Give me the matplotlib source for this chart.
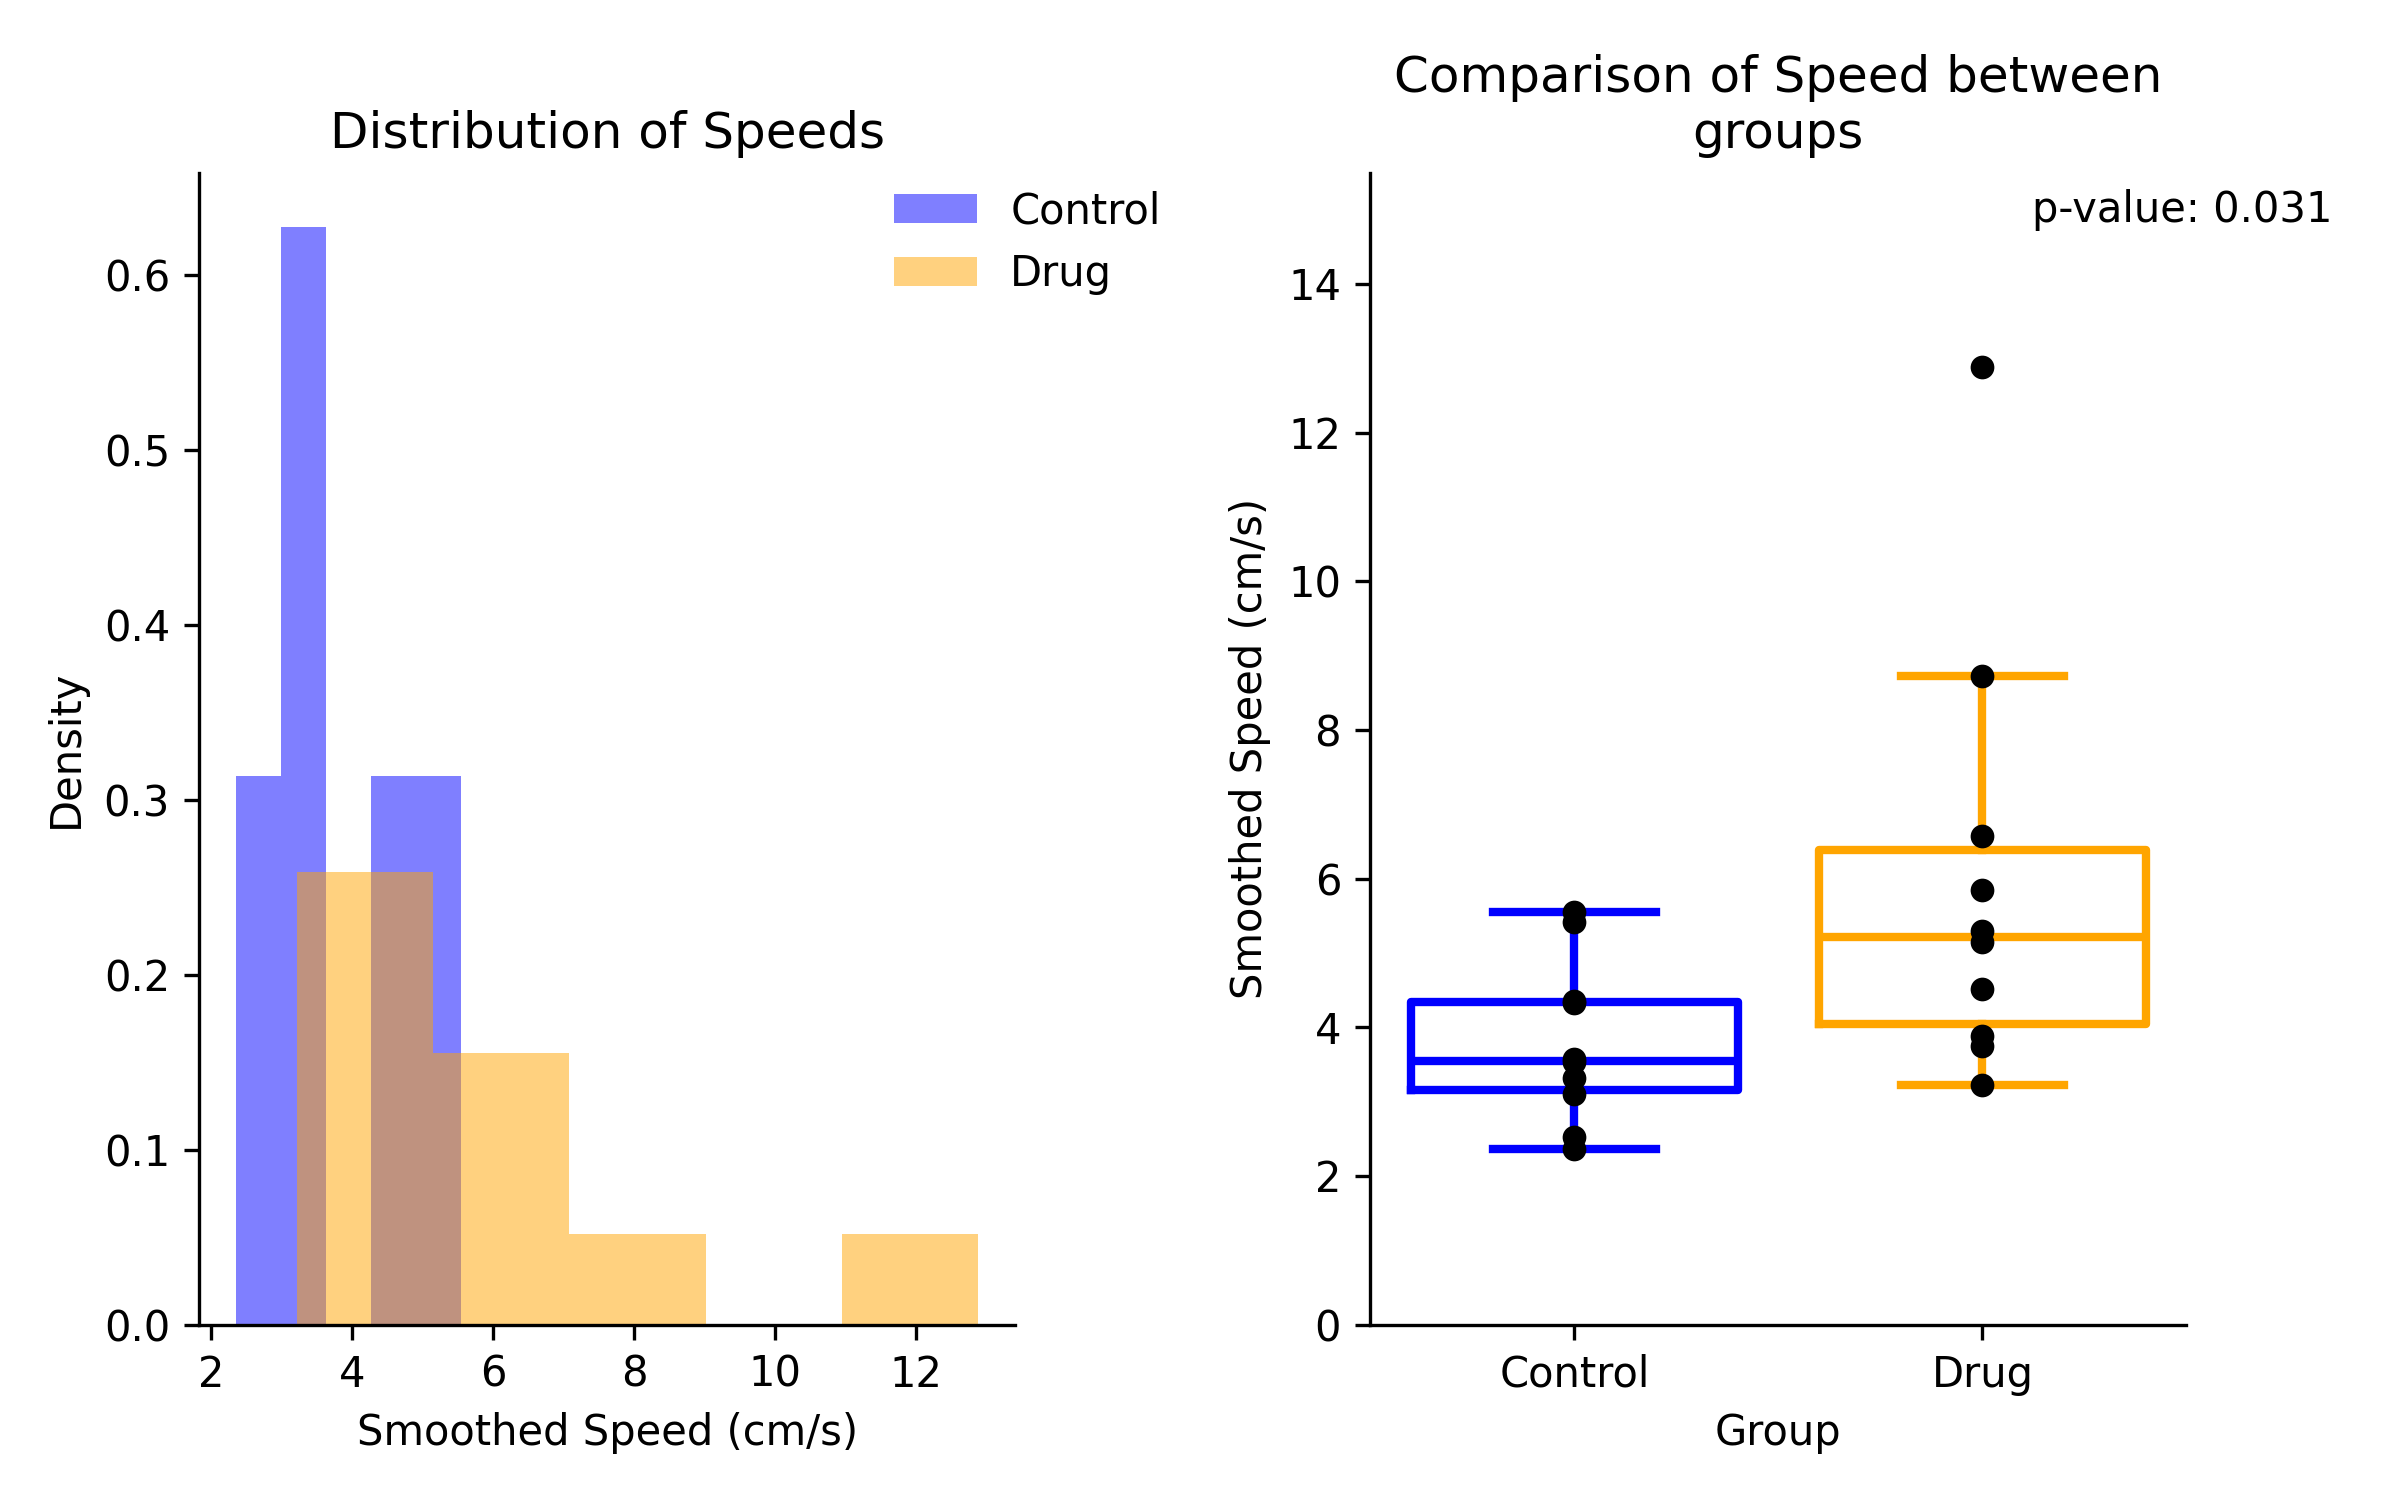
import numpy as np
from matplotlib import pyplot as plt

# smoothed speeds per animal (cm/s)
control = [2.36, 2.52, 3.10, 3.31, 3.53, 3.57, 4.32, 4.35, 5.42, 5.55]
drug = [3.22, 3.75, 3.88, 4.52, 5.14, 5.30, 5.84, 6.57, 8.72, 12.88]
groups = ['Control', 'Drug']
colors = ['blue', 'orange']
p_value = 0.031

fig, (ax1, ax2) = plt.subplots(1, 2, figsize=(8, 5), dpi=300)
fig.subplots_adjust(left=0.083, right=0.911, bottom=0.117, top=0.885, wspace=0.435)

# histogram
ax1.hist(control, bins=5, density=True, alpha=0.5, color='blue', label='Control')
ax1.hist(drug, bins=5, density=True, alpha=0.5, color='orange', label='Drug')
ax1.set_title('Distribution of Speeds')
ax1.set_xlabel('Smoothed Speed (cm/s)')
ax1.set_ylabel('Density')
ax1.legend(frameon=False, loc='upper right', bbox_to_anchor=(1.224, 1.017))
ax1.spines['top'].set_visible(False)
ax1.spines['right'].set_visible(False)

# boxplot + points
for i, (d, c) in enumerate(zip([control, drug], colors)):
    ax2.boxplot(d, positions=[i], widths=0.8, showfliers=False,
                boxprops=dict(color=c, linewidth=2),
                whiskerprops=dict(color=c, linewidth=2),
                capprops=dict(color=c, linewidth=2),
                medianprops=dict(color=c, linewidth=2))
    ax2.scatter(np.full(len(d), i), d, color='black', s=22, zorder=3)
ax2.set_xticks([0, 1])
ax2.set_xticklabels(groups)
ax2.set_xlim(-0.5, 1.5)
ax2.set_ylim(0, 15.5)
ax2.set_title('Comparison of Speed between\ngroups')
ax2.set_xlabel('Group')
ax2.set_ylabel('Smoothed Speed (cm/s)')
ax2.text(1.49, 15.0, 'p-value: %.3f' % p_value, ha='center', va='center')
ax2.spines['top'].set_visible(False)
ax2.spines['right'].set_visible(False)

plt.savefig('out.png')
